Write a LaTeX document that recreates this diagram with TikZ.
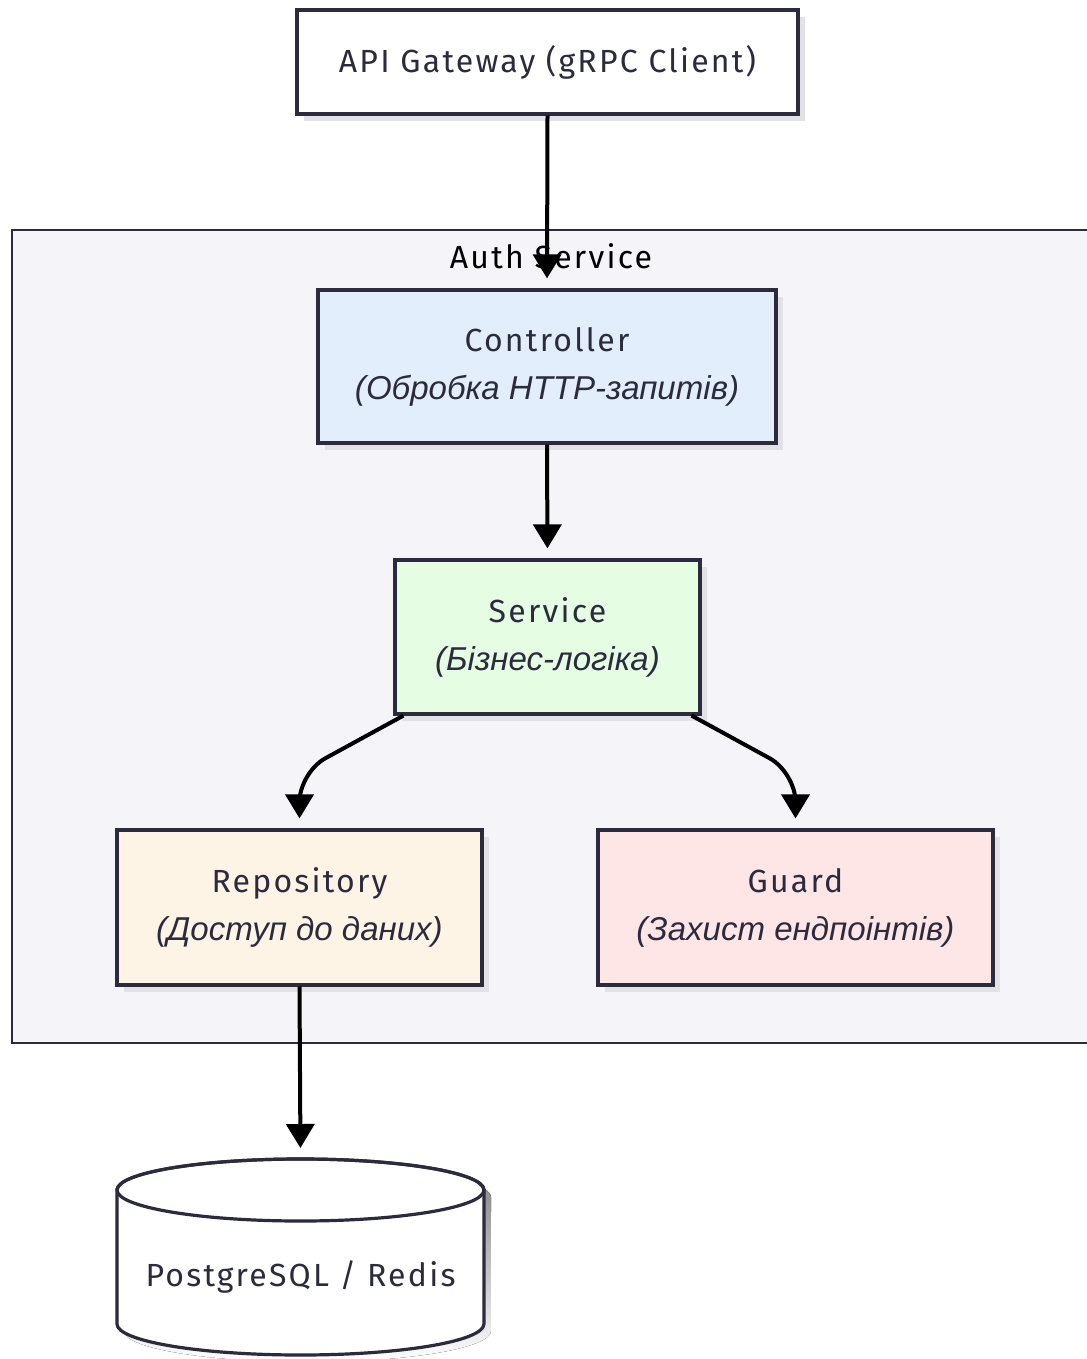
\documentclass[tikz,border=0pt]{standalone}
\usepackage{fontspec}
\setmainfont{Fira Sans}[LetterSpace=7]
\newfontfamily\subfont{Liberation Sans}
\usetikzlibrary{arrows.meta,shadows,calc}

\definecolor{ink}{HTML}{2B2B3D}
\definecolor{clusterbg}{HTML}{F5F5F9}
\definecolor{ctrlbg}{HTML}{E3EEFD}
\definecolor{svcbg}{HTML}{E4FDE3}
\definecolor{repobg}{HTML}{FEF4E6}
\definecolor{guardbg}{HTML}{FEE5E6}
\definecolor{shade}{HTML}{E2E2E6}

\newcommand{\sub}[1]{{\subfont\itshape\fontsize{24.8}{36}\selectfont #1}}

\tikzset{
  labelfont/.style={font=\fontsize{24}{36}\selectfont},
  box/.style 2 args={draw=ink, line width=2.4pt, text=ink, align=center,
    minimum width=#1*0.75pt, minimum height=#2*0.75pt, inner sep=0pt,
    labelfont,
    drop shadow={shadow xshift=5pt, shadow yshift=-5pt, fill=shade, opacity=1}},
  arr/.style={draw=black, line width=3pt,
    -{Triangle[length=18pt,width=21pt]}, shorten >=7.5pt},
}

\begin{document}
\begin{tikzpicture}[x=0.75pt, y=-0.75pt]
\useasboundingbox (0,0) rectangle (1086,1359);

% service boundary
\fill[shade] (19,237) rectangle (1100,1050);
\draw[draw=ink, fill=clusterbg, line width=2.2pt] (12,230) rectangle (1100,1043);
\node[text=black, labelfont] (clabel) at (551,256) {Auth Service};

% components
\node[box={501}{104}, fill=white] (gw) at (547.5,62) {API Gateway (gRPC Client)};
\node[box={458}{153}, fill=ctrlbg] (ctrl) at (547,366.5) {Controller\\\sub{(Обробка HTTP-запитів)}};
\node[box={305}{154}, fill=svcbg] (svc) at (547.5,637) {Service\\\sub{(Бізнес-логіка)}};
\node[box={365}{155}, fill=repobg] (repo) at (299.5,907.5) {Repository\\\sub{(Доступ до даних)}};
\node[box={395}{155}, fill=guardbg] (guard) at (795.5,907.5) {Guard\\\sub{(Захист ендпоінтів)}};

% storage cylinder
\fill[shade] (124,1197) -- (124,1331) arc[start angle=180, end angle=360, x radius=137.6pt, y radius=23.25pt]
  -- (491,1197) arc[start angle=0, end angle=180, x radius=137.6pt, y radius=23.25pt] -- cycle;
\draw[draw=ink, fill=white, line width=2.4pt] (117,1190) -- (117,1324)
  arc[start angle=180, end angle=360, x radius=137.6pt, y radius=23.25pt]
  -- (484,1190) arc[start angle=0, end angle=180, x radius=137.6pt, y radius=23.25pt] -- cycle;
\draw[draw=ink, line width=2.4pt] (300.5,1190) ellipse[x radius=137.6pt, y radius=23.25pt];
\coordinate (dbtop) at (300.5,1158);
\node[text=ink, labelfont] (db) at (300.5,1277) {PostgreSQL / Redis};

% connectors
\draw[arr] (gw.south) -- (ctrl.north);
\draw[arr] (ctrl.south) -- (svc.north);
\draw[arr, rounded corners=22pt] ([xshift=7.5pt]svc.south west) -- ([yshift=42pt]repo.north) -- (repo.north);
\draw[arr, rounded corners=22pt] ([xshift=-7.5pt]svc.south east) -- ([yshift=42pt]guard.north) -- (guard.north);
\draw[arr] (repo.south) -- (dbtop);
\end{tikzpicture}
\end{document}
